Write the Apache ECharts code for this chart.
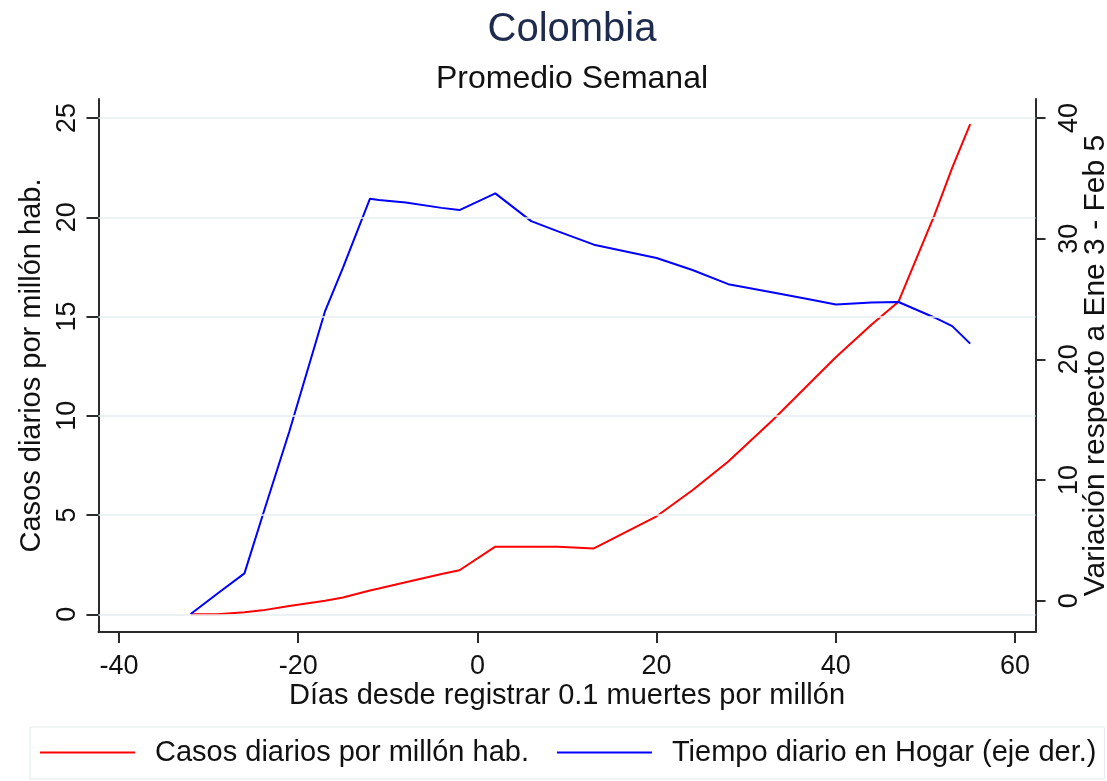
<!DOCTYPE html>
<html>
<head>
<meta charset="utf-8">
<script src="https://cdn.jsdelivr.net/npm/echarts@6/dist/echarts.min.js"></script>
<style>
  html, body { margin: 0; padding: 0; background: #fff; }
  #chart { width: 1107px; height: 781px; }
</style>
</head>
<body>
<div id="chart"></div>
<script>
// Days since 0.1 deaths per million
const days = [-32, -29, -26, -24, -21, -17, -15, -12, -11, -8, -4, -2, 2, 6, 9, 13, 20, 24, 28, 33, 37, 40, 44, 47, 51, 53, 55];
// Daily cases per million (left axis)
const casos = [0, 0, 0.1, 0.2, 0.42, 0.68, 0.85, 1.2, 1.3, 1.62, 2.03, 2.22, 3.41, 3.41, 3.41, 3.32, 4.94, 6.25, 7.7, 9.8, 11.6, 12.95, 14.6, 15.75, 20.1, 22.5, 24.7];
// Daily time at home, variation vs Jan 3 - Feb 5 (right axis)
const hogar = [-1.1, 0.6, 2.27, 7.0, 14.0, 24.0, 27.6, 33.3, 33.2, 33.0, 32.55, 32.37, 33.75, 31.45, 30.6, 29.5, 28.4, 27.4, 26.23, 25.54, 24.98, 24.55, 24.7, 24.75, 23.47, 22.75, 21.3];
// Tick labels
const xTicks = [-40, -20, 0, 20, 40, 60];
const yLeftTicks = [0, 5, 10, 15, 20, 25];
const yRightTicks = [0, 10, 20, 30, 40];

const FONT = 'Liberation Sans, Arial, sans-serif';
const axisColor = '#2b2b2b';

const chart = echarts.init(document.getElementById('chart'), null, { renderer: 'canvas' });
const option = {
  animation: false,
  backgroundColor: '#ffffff',
  title: [
    { text: 'Colombia', left: 567, top: 5, textAlign: 'center',
      textStyle: { fontFamily: FONT, fontSize: 40, fontWeight: 'normal', color: '#1e2b4f' } },
    { text: 'Promedio Semanal', left: 567, top: 58, textAlign: 'center',
      textStyle: { fontFamily: FONT, fontSize: 32, fontWeight: 'normal', color: '#111' } }
  ],
  grid: { left: 98.5, right: 71.5, top: 99, bottom: 149, containLabel: false, outerBoundsMode: 'none' },
  legend: {
    left: 30, top: 727,
    padding: [11, 8, 12, 10],
    itemGap: 28, itemWidth: 95, itemHeight: 2,
    icon: 'rect',
    borderColor: '#e2e9eb', borderWidth: 1,
    textStyle: { fontFamily: FONT, fontSize: 29, color: '#111', padding: [0, 0, 0, 15] },
    data: ['Casos diarios por millón hab.', 'Tiempo diario en Hogar (eje der.)']
  },
  xAxis: {
    type: 'value', min: -42.29, max: 62.29,
    name: 'Días desde registrar 0.1 muertes por millón',
    nameLocation: 'middle', nameGap: 49, nameMoveOverlap: false,
    nameTextStyle: { fontFamily: FONT, fontSize: 29, color: '#111' },
    axisLine: { onZero: false, lineStyle: { color: axisColor, width: 2 } },
    axisTick: { show: true, inside: false, length: 11, customValues: xTicks, lineStyle: { color: axisColor, width: 2 } },
    axisLabel: { customValues: xTicks, margin: 21, fontFamily: FONT, fontSize: 27, color: '#111' },
    splitLine: { show: false }
  },
  yAxis: [
    {
      type: 'value', min: -0.89, max: 25.96, position: 'left',
      name: 'Casos diarios por millón hab.',
      nameLocation: 'middle', nameGap: 52, nameRotate: 90, nameMoveOverlap: false,
      nameTextStyle: { fontFamily: FONT, fontSize: 29, color: '#111' },
      axisLine: { show: true, onZero: false, lineStyle: { color: axisColor, width: 2 } },
      axisTick: { show: true, length: 12, customValues: yLeftTicks, lineStyle: { color: axisColor, width: 2 } },
      axisLabel: { customValues: yLeftTicks, rotate: 90, margin: 17, fontFamily: FONT, fontSize: 27, color: '#111' },
      splitLine: { show: false }
    },
    {
      type: 'value', min: -2.59, max: 41.57, position: 'right',
      name: 'Variación respecto a Ene 3 - Feb 5',
      nameLocation: 'middle', nameGap: 45, nameRotate: 90, nameMoveOverlap: false,
      nameTextStyle: { fontFamily: FONT, fontSize: 30, color: '#111' },
      axisLine: { show: true, onZero: false, lineStyle: { color: axisColor, width: 2 } },
      axisTick: { show: true, length: 10, customValues: yRightTicks, lineStyle: { color: axisColor, width: 2 } },
      axisLabel: { customValues: yRightTicks, rotate: 90, margin: 21, fontFamily: FONT, fontSize: 27, color: '#111' },
      splitLine: { show: false }
    }
  ],
  series: [
    {
      name: 'Casos diarios por millón hab.',
      type: 'line', xAxisIndex: 0, yAxisIndex: 0,
      data: days.map((d, i) => [d, casos[i]]),
      symbol: 'none', showSymbol: false,
      lineStyle: { color: '#ff0000', width: 2 },
      itemStyle: { color: '#ff0000' },
      z: 3,
      markLine: {
        silent: true, symbol: 'none', animation: false,
        label: { show: false },
        lineStyle: { color: '#e6eef0', width: 1.5, type: 'solid' },
        data: yLeftTicks.map(v => ({ yAxis: v }))
      }
    },
    {
      name: 'Tiempo diario en Hogar (eje der.)',
      type: 'line', xAxisIndex: 0, yAxisIndex: 1,
      data: days.map((d, i) => [d, hogar[i]]),
      symbol: 'none', showSymbol: false,
      lineStyle: { color: '#0000ff', width: 2 },
      itemStyle: { color: '#0000ff' },
      z: 4
    }
  ]
};
chart.setOption(option);
</script>
</body>
</html>
